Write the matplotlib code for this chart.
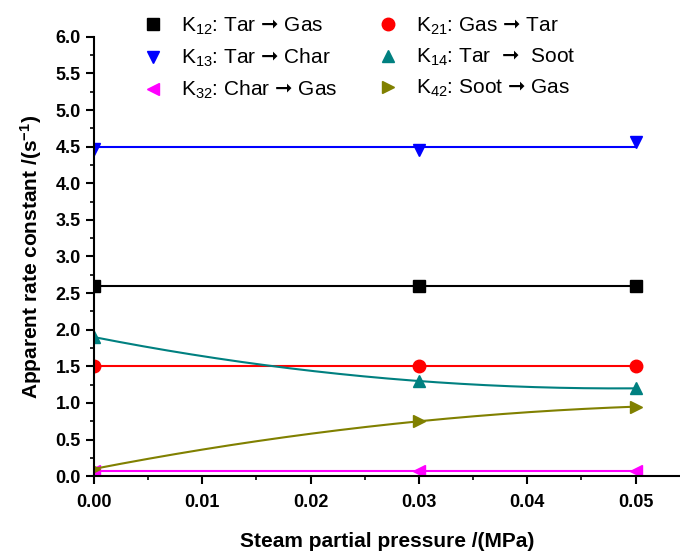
import matplotlib
matplotlib.use("Agg")
import matplotlib.pyplot as plt
import numpy as np

plt.rcParams['font.family'] = ['Liberation Sans', 'DejaVu Sans']
plt.rcParams['mathtext.fontset'] = 'custom'
plt.rcParams['mathtext.rm'] = 'Liberation Sans'
plt.rcParams['mathtext.it'] = 'Liberation Sans'
plt.rcParams['mathtext.bf'] = 'Liberation Sans:bold'
plt.rcParams['mathtext.sf'] = 'DejaVu Sans'

# steam partial pressure (MPa)
pressure = [0.00, 0.03, 0.05]

k12 = [2.6, 2.6, 2.6]
k21 = [1.5, 1.5, 1.5]
k13 = [4.47, 4.46, 4.56]
k14 = [1.9, 1.3, 1.2]
k32 = [0.07, 0.07, 0.07]
k42 = [0.1, 0.75, 0.95]

arr = r'$\mathsf{➞}$'
labels = [r'K$_{12}$: Tar ' + arr + ' Gas', r'K$_{21}$: Gas ' + arr + ' Tar',
          r'K$_{13}$: Tar ' + arr + ' Char', r'K$_{14}$: Tar  ' + arr + '  Soot',
          r'K$_{32}$: Char ' + arr + ' Gas', r'K$_{42}$: Soot ' + arr + ' Gas']

fig = plt.figure(figsize=(6.8, 5.57), dpi=100)
ax = fig.add_axes([0.138, 0.145, 0.862, 0.789])

x = np.array(pressure)
xf = np.linspace(0, 0.05, 200)

# constant rates -> flat line at the mean, trends -> quadratic fit
def fit(y, deg):
    p = np.polyfit(x, y, deg)
    return np.polyval(p, xf)

series = [
    (k12, 'black', 's', 0),
    (k21, 'red', 'o', 0),
    (k13, 'blue', 'v', 0),
    (k14, '#008080', '^', 2),
    (k32, '#FF00FF', '<', 0),
    (k42, '#808000', '>', 2),
]

handles = []
for (y, c, m, deg), lab in zip(series, labels):
    ax.plot(xf, fit(y, deg), color=c, lw=1.5)
    h, = ax.plot(x, y, ls='none', marker=m, color=c, ms=9, label=lab)
    handles.append(h)

ax.set_xlim(0, 0.0541)
ax.set_ylim(0, 6.0)
ax.set_xticks(np.arange(0, 0.051, 0.01))
ax.set_xticks(np.arange(0.005, 0.051, 0.01), minor=True)
ax.set_yticks(np.arange(0, 6.01, 0.5))
ax.set_yticks(np.arange(0.25, 6.0, 0.5), minor=True)
ax.xaxis.set_major_formatter(matplotlib.ticker.FormatStrFormatter('%.2f'))
ax.yaxis.set_major_formatter(matplotlib.ticker.FormatStrFormatter('%.1f'))

for s in ['top', 'right']:
    ax.spines[s].set_visible(False)
for s in ['left', 'bottom']:
    ax.spines[s].set_linewidth(1.5)
ax.tick_params(which='major', length=6, width=1.5, direction='out', labelsize=13)
ax.tick_params(axis='x', which='major', pad=7)
ax.tick_params(which='minor', length=3, width=1.2, direction='out')
for t in ax.get_xticklabels() + ax.get_yticklabels():
    t.set_fontweight('bold')

ax.set_xlabel('Steam partial pressure /(MPa)', fontsize=15, fontweight='bold', labelpad=15)
ax.set_ylabel(r'Apparent rate constant /(s$^{\mathbf{-1}}$)', fontsize=15,
              fontweight='bold', labelpad=8)

# legend fills column-wise, so reorder to read row by row
order = [0, 2, 4, 1, 3, 5]
leg = ax.legend(handles=[handles[i] for i in order], ncol=2, loc='upper left',
                bbox_to_anchor=(0.21, 0.972), bbox_transform=fig.transFigure,
                frameon=False, fontsize=15, handlelength=1.0,
                handletextpad=0.85, columnspacing=1.93, labelspacing=0.48,
                borderaxespad=0, borderpad=0)
leg.set_clip_on(False)

fig.savefig('out.png', dpi=100)
